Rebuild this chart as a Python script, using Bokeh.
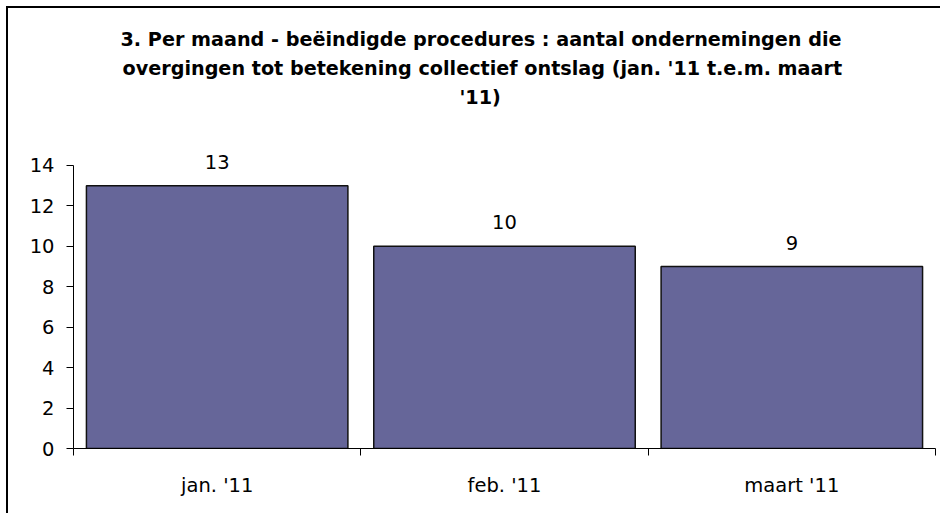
from bokeh.plotting import figure
from bokeh.models import Range1d, FixedTicker, Title, ColumnDataSource
from bokeh.core.properties import value
from bokeh.embed import file_html
from bokeh.resources import INLINE

# ---- data ----
months = ["jan. '11", "feb. '11", "maart '11"]
counts = [13, 10, 9]
y_ticks = [0, 2, 4, 6, 8, 10, 12, 14]
title_lines = [
    "3. Per maand - beëindigde procedures : aantal ondernemingen die",
    "overgingen tot betekening collectief ontslag (jan. '11 t.e.m. maart",
    "'11)",
]

x_pos = [i + 0.5 for i in range(len(months))]
src = ColumnDataSource(dict(x=x_pos, top=counts, lbl=[str(c) for c in counts]))

FONT = "DejaVu Sans"
p = figure(width=934, height=507, output_backend="svg", toolbar_location=None,
           x_range=Range1d(0, len(months)), y_range=Range1d(0, 16.72),
           min_border_left=65, min_border_right=7, min_border_top=102,
           min_border_bottom=67)
p.outline_line_color = None
p.xgrid.visible = False
p.ygrid.visible = False
p.styles = {"margin-left": "8px", "margin-top": "8px",
            "box-shadow": "-2px -2px 0 0 #000"}

p.vbar(x="x", top="top", width=0.91, source=src, fill_color="#666699",
       line_color="#111111", line_width=1.5)
p.text(x="x", y="top", text="lbl", source=src, text_align="center",
       text_baseline="alphabetic", y_offset=-24,
       text_font=value(FONT), text_font_size="19.5px", text_color="#000")

# y axis
ya = p.yaxis[0]
ya.ticker = FixedTicker(ticks=y_ticks)
ya.bounds = (0, 14)
ya.major_tick_in = 0
ya.major_tick_out = 7
ya.minor_tick_line_color = None
ya.axis_line_color = "#000"
ya.major_tick_line_color = "#000"
ya.major_label_text_font = FONT
ya.major_label_text_font_size = "19.5px"
ya.major_label_text_color = "#000"
ya.major_label_standoff = 12

# x axis
xa = p.xaxis[0]
xa.ticker = FixedTicker(ticks=x_pos, minor_ticks=list(range(len(months) + 1)))
xa.major_label_overrides = {x: m for x, m in zip(x_pos, months)}
xa.major_tick_in = 0
xa.major_tick_out = 0
xa.minor_tick_in = 0
xa.minor_tick_out = 7
xa.minor_tick_line_color = "#000"
xa.axis_line_color = "#000"
xa.major_label_text_font = FONT
xa.major_label_text_font_size = "19.5px"
xa.major_label_text_color = "#000"
xa.major_label_standoff = 18

# title lines: first added sits nearest the frame
offsets = [47, 49, 386]
for i in reversed(range(len(title_lines))):
    p.add_layout(Title(text=title_lines[i], align="left", offset=offsets[i],
                       standoff=4, text_font=FONT, text_font_style="bold",
                       text_font_size="19.2px", text_color="#000"), "above")

open("out.html", "w").write(file_html(p, INLINE))
